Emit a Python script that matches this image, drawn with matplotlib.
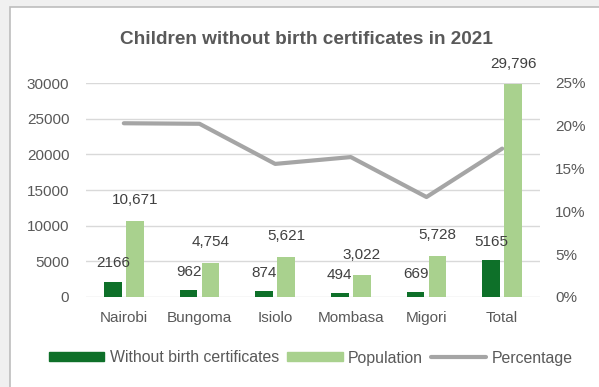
import matplotlib
matplotlib.use("Agg")
import matplotlib.pyplot as plt
from matplotlib.patches import Rectangle, Patch
from matplotlib.lines import Line2D
from matplotlib.ticker import FuncFormatter
import numpy as np

plt.rcParams['font.family'] = ['Liberation Sans', 'DejaVu Sans']

categories = ["Nairobi", "Bungoma", "Isiolo", "Mombasa", "Migori", "Total"]
without_cert = [2166, 962, 874, 494, 669, 5165]
population = [10671, 4754, 5621, 3022, 5728, 29796]
pop_labels = ["10,671", "4,754", "5,621", "3,022", "5,728", "29,796"]
percentage = [w / p * 100 for w, p in zip(without_cert, population)]

dark = "#0e7029"
light = "#a9d18e"
gray_line = "#a5a5a5"
text_col = "#595959"
FS = 11

W, H = 599, 387
fig = plt.figure(figsize=(W / 100, H / 100), dpi=100)
fig.patch.set_facecolor("#f0f0f0")
fig.patches.append(Rectangle((10 / W, -0.1), 1.2, (H - 7) / H + 0.1, transform=fig.transFigure,
                             facecolor="white", edgecolor="#bdbdbd", linewidth=1.2, zorder=-5))

ax = fig.add_axes([86 / W, (H - 297) / H, (540 - 86) / W, (297 - 83) / H])
ax.set_facecolor("none")
x = np.arange(len(categories))
bw = 0.23
off = 0.145
ax.bar(x - off, without_cert, bw, color=dark, zorder=3)
ax.bar(x + off, population, bw, color=light, zorder=3)

for xi, v in zip(x, without_cert):
    ax.annotate(str(v), (xi - off, v), xytext=(0, 8), textcoords="offset points",
                ha="center", va="bottom", fontsize=FS, color="#404040")
for xi, v, lab in zip(x, population, pop_labels):
    ax.annotate(lab, (xi + off, v), xytext=(0, 10), textcoords="offset points",
                ha="center", va="bottom", fontsize=FS, color="#404040")

ax.set_xlim(-0.5, len(categories) - 0.5)
ax.set_ylim(0, 30000)
ax.set_yticks(np.arange(0, 30001, 5000))
ax.grid(axis="y", color="#d9d9d9", linewidth=1, zorder=0)
ax.set_axisbelow(True)
ax.set_xticks(x)
ax.set_xticklabels(categories)
ax.tick_params(axis="both", length=0, labelsize=FS, colors=text_col)
ax.tick_params(axis="x", pad=10)
ax.tick_params(axis="y", pad=12)
for s in ax.spines.values():
    s.set_visible(False)

ax2 = ax.twinx()
ax2.plot(x, percentage, color=gray_line, linewidth=3, zorder=4, solid_capstyle="round")
ax2.set_ylim(0, 25)
ax2.set_yticks(np.arange(0, 26, 5))
ax2.yaxis.set_major_formatter(FuncFormatter(lambda v, _: f"{v:.0f}%"))
ax2.tick_params(axis="y", length=0, labelsize=FS, colors=text_col, pad=11)
for s in ax2.spines.values():
    s.set_visible(False)

fig.text(306 / W, 1 - 40 / H, "Children without birth certificates in 2021",
         ha="center", va="center", fontsize=13.7, fontweight="bold", color=text_col)

handles = [Patch(color=dark), Patch(color=light),
           Line2D([0], [0], color=gray_line, linewidth=3, solid_capstyle="round")]
fig.legend(handles, ["Without birth certificates", "Population", "Percentage"],
           loc="center", bbox_to_anchor=(311 / W, 1 - 358 / H), ncol=3, frameon=False,
           fontsize=11.4, labelcolor=text_col, handlelength=3.5, handleheight=0.5,
           handletextpad=0.35, columnspacing=0.5)

fig.savefig("out.png", dpi=100, facecolor=fig.get_facecolor())
